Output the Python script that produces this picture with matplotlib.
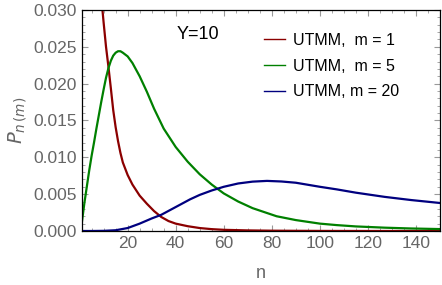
import numpy as np
import matplotlib.pyplot as plt
from matplotlib.lines import Line2D
from matplotlib.ticker import MultipleLocator, FormatStrFormatter

plt.rcParams['font.family'] = ['Liberation Sans', 'DejaVu Sans']

# m = 1
n_m1 = [7, 8, 9, 10, 11, 12, 13, 14, 15, 16, 17, 18, 20, 22, 25, 28, 31, 34, 37,
        40, 45, 50, 55, 60, 70, 80, 100, 120, 150]
p_m1 = [0.040, 0.0355, 0.0318, 0.0283, 0.0250, 0.0223, 0.0194, 0.0164, 0.0141,
        0.0122, 0.0106, 0.0093, 0.0076, 0.0063, 0.0048, 0.0037, 0.0027, 0.0019,
        0.00135, 0.0010, 0.00065, 0.0004, 0.00025, 0.00016, 0.00008, 0.00004,
        0.00001, 0.0, 0.0]

# m = 5
n_m5 = [1, 2, 3, 4, 5, 6, 7, 8, 9, 10, 11, 12, 13, 14, 15, 16, 17, 18, 20, 22,
        25, 28, 31, 35, 40, 45, 50, 55, 60, 66, 72, 82, 90, 100, 107, 115, 127,
        138, 150]
p_m5 = [0.0013, 0.0038, 0.0060, 0.0082, 0.0102, 0.0120, 0.0139, 0.0157, 0.0175,
        0.0192, 0.0208, 0.0221, 0.0231, 0.0238, 0.0242, 0.0244, 0.0244, 0.0242,
        0.0237, 0.0228, 0.0210, 0.0189, 0.0166, 0.0139, 0.0114, 0.0094, 0.0077,
        0.0063, 0.0051, 0.0040, 0.0031, 0.0020, 0.00148, 0.0010, 0.0008,
        0.00062, 0.00045, 0.00034, 0.00026]

# m = 20
n_m20 = [1, 5, 10, 15, 20, 25, 30, 34, 38, 42, 46, 50, 55, 60, 66, 72, 78, 84,
         90, 100, 107, 115, 127, 138, 150]
p_m20 = [0.0, 0.0, 0.00002, 0.0001, 0.0004, 0.0010, 0.0017, 0.0022, 0.0029,
         0.0036, 0.0043, 0.0049, 0.0055, 0.0060, 0.00645, 0.0067, 0.0068,
         0.00672, 0.00655, 0.0060, 0.00565, 0.0052, 0.00463, 0.0042, 0.0038]

labels = ['UTMM,  m = 1', 'UTMM,  m = 5', 'UTMM, m = 20']
colors = ['#8b0000', '#008000', '#00007f']

fig = plt.figure(figsize=(4.42, 2.85), dpi=100)
ax = fig.add_axes([0.1855, 0.1895, 0.81, 0.7755])

for n, p, c in zip([n_m1, n_m5, n_m20], [p_m1, p_m5, p_m20], colors):
    ax.plot(n, p, color=c, lw=1.6)

ax.set_xlim(1, 150)
ax.set_ylim(0, 0.030)
ax.xaxis.set_major_locator(MultipleLocator(20))
ax.xaxis.set_minor_locator(MultipleLocator(5))
ax.yaxis.set_major_locator(MultipleLocator(0.005))
ax.yaxis.set_minor_locator(MultipleLocator(0.001))
ax.yaxis.set_major_formatter(FormatStrFormatter('%.3f'))
ax.tick_params(which='both', direction='in', top=True, right=True,
               labelcolor='#666666', labelsize=12.5, color='#999999')
ax.tick_params(which='major', length=4)
ax.tick_params(which='minor', length=2)
for s in ax.spines.values():
    s.set_linewidth(0.9)

ax.set_xlabel('n', color='#666666', fontsize=13, labelpad=10)
ax.set_ylabel(r'$P_{n\,(m)}$', color='#666666', fontsize=14, labelpad=3)

ax.text(0.263, 0.891, 'Y=10', transform=ax.transAxes, fontsize=13,
        ha='left', va='center')

handles = [Line2D([], [], color=c, lw=1) for c in colors]
ax.legend(handles, labels, loc='upper left', bbox_to_anchor=(0.508, 0.897),
          frameon=False, fontsize=11.5, handlelength=1.3, handletextpad=0.5,
          labelspacing=0.68, borderpad=0, borderaxespad=0)

fig.savefig('out.png', dpi=100)
